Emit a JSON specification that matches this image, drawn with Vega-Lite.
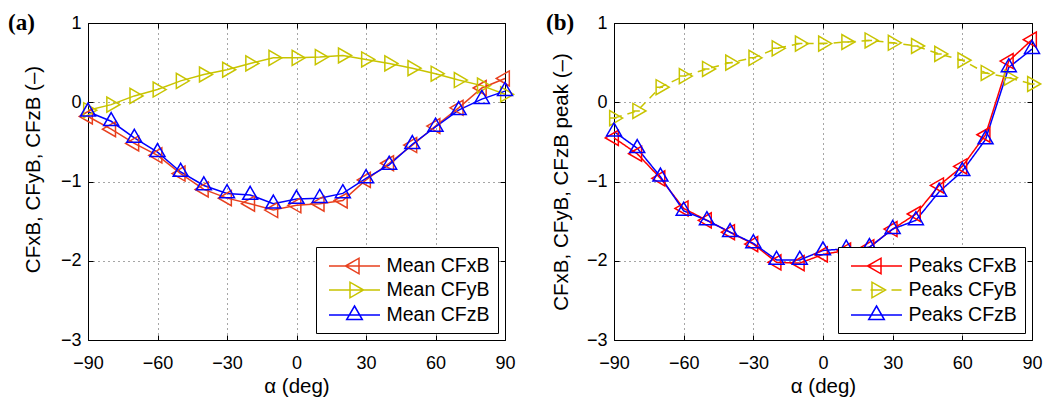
{
  "$schema": "https://vega.github.io/schema/vega-lite/v6.json",
  "padding": {"left": 7, "top": 11, "right": 2, "bottom": 0},
  "spacing": 109,
  "bounds": "flush",
  "background": "white",
  "resolve": {
    "scale": {"color": "independent", "shape": "independent", "stroke": "independent", "strokeDash": "independent", "x": "independent", "y": "independent"},
    "legend": {"color": "independent", "shape": "independent"}
  },
  "config": {
    "view": {"stroke": "black", "strokeWidth": 1},
    "axis": {
      "labelFont": "Liberation Sans", "labelFontSize": 18, "labelColor": "black",
      "titleFont": "Liberation Sans", "titleFontSize": 20.5, "titleFontWeight": "normal", "titleColor": "black",
      "tickColor": "black", "tickSize": -5, "tickWidth": 1, "domain": false,
      "gridColor": "black", "gridDash": [1, 4], "gridOpacity": 0.7, "gridWidth": 1,
      "labelFlush": false
    },
    "legend": {
      "labelFont": "Liberation Sans", "labelFontSize": 19.5, "labelColor": "black",
      "strokeColor": "black", "fillColor": "white", "padding": 8, "cornerRadius": 0,
      "symbolSize": 400, "symbolStrokeWidth": 1.5, "symbolOpacity": 1, "symbolOffset": 19.5, "labelOffset": 21, "rowPadding": 2,
      "orient": "bottom-right", "offset": 7
    },
    "title": {"font": "Liberation Serif", "fontWeight": "bold", "fontSize": 23, "color": "black", "anchor": "start", "frame": "group", "baseline": "alphabetic", "offset": -21}
  },
  "datasets": {
    "a": [
      {"alpha": -90, "value": -0.18, "series": "Mean CFxB"},
      {"alpha": -80, "value": -0.34, "series": "Mean CFxB"},
      {"alpha": -70, "value": -0.52, "series": "Mean CFxB"},
      {"alpha": -60, "value": -0.67, "series": "Mean CFxB"},
      {"alpha": -50, "value": -0.90, "series": "Mean CFxB"},
      {"alpha": -40, "value": -1.10, "series": "Mean CFxB"},
      {"alpha": -30, "value": -1.21, "series": "Mean CFxB"},
      {"alpha": -20, "value": -1.28, "series": "Mean CFxB"},
      {"alpha": -10, "value": -1.36, "series": "Mean CFxB"},
      {"alpha": 0, "value": -1.30, "series": "Mean CFxB"},
      {"alpha": 10, "value": -1.28, "series": "Mean CFxB"},
      {"alpha": 20, "value": -1.24, "series": "Mean CFxB"},
      {"alpha": 30, "value": -0.98, "series": "Mean CFxB"},
      {"alpha": 40, "value": -0.77, "series": "Mean CFxB"},
      {"alpha": 50, "value": -0.54, "series": "Mean CFxB"},
      {"alpha": 60, "value": -0.30, "series": "Mean CFxB"},
      {"alpha": 70, "value": -0.07, "series": "Mean CFxB"},
      {"alpha": 80, "value": 0.18, "series": "Mean CFxB"},
      {"alpha": 90, "value": 0.30, "series": "Mean CFxB"},
      {"alpha": -90, "value": -0.10, "series": "Mean CFyB"},
      {"alpha": -80, "value": -0.03, "series": "Mean CFyB"},
      {"alpha": -70, "value": 0.08, "series": "Mean CFyB"},
      {"alpha": -60, "value": 0.16, "series": "Mean CFyB"},
      {"alpha": -50, "value": 0.27, "series": "Mean CFyB"},
      {"alpha": -40, "value": 0.35, "series": "Mean CFyB"},
      {"alpha": -30, "value": 0.41, "series": "Mean CFyB"},
      {"alpha": -20, "value": 0.49, "series": "Mean CFyB"},
      {"alpha": -10, "value": 0.56, "series": "Mean CFyB"},
      {"alpha": 0, "value": 0.56, "series": "Mean CFyB"},
      {"alpha": 10, "value": 0.57, "series": "Mean CFyB"},
      {"alpha": 20, "value": 0.59, "series": "Mean CFyB"},
      {"alpha": 30, "value": 0.54, "series": "Mean CFyB"},
      {"alpha": 40, "value": 0.49, "series": "Mean CFyB"},
      {"alpha": 50, "value": 0.43, "series": "Mean CFyB"},
      {"alpha": 60, "value": 0.36, "series": "Mean CFyB"},
      {"alpha": 70, "value": 0.28, "series": "Mean CFyB"},
      {"alpha": 80, "value": 0.21, "series": "Mean CFyB"},
      {"alpha": 90, "value": 0.10, "series": "Mean CFyB"},
      {"alpha": -90, "value": -0.12, "series": "Mean CFzB"},
      {"alpha": -80, "value": -0.24, "series": "Mean CFzB"},
      {"alpha": -70, "value": -0.45, "series": "Mean CFzB"},
      {"alpha": -60, "value": -0.63, "series": "Mean CFzB"},
      {"alpha": -50, "value": -0.88, "series": "Mean CFzB"},
      {"alpha": -40, "value": -1.05, "series": "Mean CFzB"},
      {"alpha": -30, "value": -1.15, "series": "Mean CFzB"},
      {"alpha": -20, "value": -1.17, "series": "Mean CFzB"},
      {"alpha": -10, "value": -1.28, "series": "Mean CFzB"},
      {"alpha": 0, "value": -1.22, "series": "Mean CFzB"},
      {"alpha": 10, "value": -1.21, "series": "Mean CFzB"},
      {"alpha": 20, "value": -1.15, "series": "Mean CFzB"},
      {"alpha": 30, "value": -0.96, "series": "Mean CFzB"},
      {"alpha": 40, "value": -0.79, "series": "Mean CFzB"},
      {"alpha": 50, "value": -0.53, "series": "Mean CFzB"},
      {"alpha": 60, "value": -0.31, "series": "Mean CFzB"},
      {"alpha": 70, "value": -0.10, "series": "Mean CFzB"},
      {"alpha": 80, "value": 0.04, "series": "Mean CFzB"},
      {"alpha": 90, "value": 0.14, "series": "Mean CFzB"}
    ],
    "b": [
      {"alpha": -90, "value": -0.45, "series": "Peaks CFxB"},
      {"alpha": -80, "value": -0.65, "series": "Peaks CFxB"},
      {"alpha": -70, "value": -0.96, "series": "Peaks CFxB"},
      {"alpha": -60, "value": -1.34, "series": "Peaks CFxB"},
      {"alpha": -50, "value": -1.49, "series": "Peaks CFxB"},
      {"alpha": -40, "value": -1.64, "series": "Peaks CFxB"},
      {"alpha": -30, "value": -1.79, "series": "Peaks CFxB"},
      {"alpha": -20, "value": -2.02, "series": "Peaks CFxB"},
      {"alpha": -10, "value": -2.03, "series": "Peaks CFxB"},
      {"alpha": 0, "value": -1.92, "series": "Peaks CFxB"},
      {"alpha": 10, "value": -1.87, "series": "Peaks CFxB"},
      {"alpha": 20, "value": -1.83, "series": "Peaks CFxB"},
      {"alpha": 30, "value": -1.60, "series": "Peaks CFxB"},
      {"alpha": 40, "value": -1.41, "series": "Peaks CFxB"},
      {"alpha": 50, "value": -1.05, "series": "Peaks CFxB"},
      {"alpha": 60, "value": -0.81, "series": "Peaks CFxB"},
      {"alpha": 70, "value": -0.41, "series": "Peaks CFxB"},
      {"alpha": 80, "value": 0.52, "series": "Peaks CFxB"},
      {"alpha": 90, "value": 0.79, "series": "Peaks CFxB"},
      {"alpha": -90, "value": -0.20, "series": "Peaks CFyB"},
      {"alpha": -80, "value": -0.11, "series": "Peaks CFyB"},
      {"alpha": -70, "value": 0.19, "series": "Peaks CFyB"},
      {"alpha": -60, "value": 0.33, "series": "Peaks CFyB"},
      {"alpha": -50, "value": 0.42, "series": "Peaks CFyB"},
      {"alpha": -40, "value": 0.50, "series": "Peaks CFyB"},
      {"alpha": -30, "value": 0.56, "series": "Peaks CFyB"},
      {"alpha": -20, "value": 0.68, "series": "Peaks CFyB"},
      {"alpha": -10, "value": 0.74, "series": "Peaks CFyB"},
      {"alpha": 0, "value": 0.74, "series": "Peaks CFyB"},
      {"alpha": 10, "value": 0.76, "series": "Peaks CFyB"},
      {"alpha": 20, "value": 0.78, "series": "Peaks CFyB"},
      {"alpha": 30, "value": 0.75, "series": "Peaks CFyB"},
      {"alpha": 40, "value": 0.71, "series": "Peaks CFyB"},
      {"alpha": 50, "value": 0.61, "series": "Peaks CFyB"},
      {"alpha": 60, "value": 0.53, "series": "Peaks CFyB"},
      {"alpha": 70, "value": 0.37, "series": "Peaks CFyB"},
      {"alpha": 80, "value": 0.31, "series": "Peaks CFyB"},
      {"alpha": 90, "value": 0.23, "series": "Peaks CFyB"},
      {"alpha": -90, "value": -0.37, "series": "Peaks CFzB"},
      {"alpha": -80, "value": -0.58, "series": "Peaks CFzB"},
      {"alpha": -70, "value": -0.94, "series": "Peaks CFzB"},
      {"alpha": -60, "value": -1.37, "series": "Peaks CFzB"},
      {"alpha": -50, "value": -1.49, "series": "Peaks CFzB"},
      {"alpha": -40, "value": -1.64, "series": "Peaks CFzB"},
      {"alpha": -30, "value": -1.78, "series": "Peaks CFzB"},
      {"alpha": -20, "value": -1.99, "series": "Peaks CFzB"},
      {"alpha": -10, "value": -1.99, "series": "Peaks CFzB"},
      {"alpha": 0, "value": -1.87, "series": "Peaks CFzB"},
      {"alpha": 10, "value": -1.85, "series": "Peaks CFzB"},
      {"alpha": 20, "value": -1.83, "series": "Peaks CFzB"},
      {"alpha": 30, "value": -1.60, "series": "Peaks CFzB"},
      {"alpha": 40, "value": -1.49, "series": "Peaks CFzB"},
      {"alpha": 50, "value": -1.13, "series": "Peaks CFzB"},
      {"alpha": 60, "value": -0.87, "series": "Peaks CFzB"},
      {"alpha": 70, "value": -0.47, "series": "Peaks CFzB"},
      {"alpha": 80, "value": 0.44, "series": "Peaks CFzB"},
      {"alpha": 90, "value": 0.67, "series": "Peaks CFzB"}
    ]
  },
  "hconcat": [
    {
      "width": 417, "height": 317,
      "title": {"text": "(a)", "dx": -80},
      "data": {"name": "a"},
      "layer": [
        {
          "mark": {"type": "line", "strokeWidth": 1.5},
          "encoding": {
            "x": {"field": "alpha", "type": "quantitative", "scale": {"domain": [-90, 90], "nice": false},
                  "axis": {"values": [-90, -60, -30, 0, 30, 60, 90], "title": "α (deg)", "labelPadding": 19, "titlePadding": 4, "grid": true}},
            "y": {"field": "value", "type": "quantitative", "scale": {"domain": [-3, 1], "nice": false},
                  "axis": {"values": [-3, -2, -1, 0, 1], "title": "CFxB, CFyB, CFzB  (–)", "labelPadding": 12, "titlePadding": 17, "titleY": 146, "grid": true}},
            "stroke": {"field": "series", "type": "nominal", "scale": {"domain": ["Mean CFzB", "Mean CFyB", "Mean CFxB"], "range": ["#0000ff", "#c8c400", "#e8401e"]}, "legend": null}
          }
        },
        {
          "transform": [{"filter": "datum.series === 'Mean CFxB'"}],
          "mark": {"type": "point", "shape": "M-1,0L0.5,-0.866L0.5,0.866Z", "filled": false, "stroke": "#e8401e", "strokeWidth": 1.5, "size": 300, "opacity": 1},
          "encoding": {
            "x": {"field": "alpha", "type": "quantitative", "axis": {"orient": "top", "values": [-90, -60, -30, 0, 30, 60, 90], "labels": false, "title": null, "grid": false}},
            "y": {"field": "value", "type": "quantitative", "axis": {"orient": "right", "values": [-3, -2, -1, 0, 1], "labels": false, "title": null, "grid": false}}
          }
        },
        {
          "transform": [{"filter": "datum.series === 'Mean CFyB'"}],
          "mark": {"type": "point", "shape": "M1,0L-0.5,-0.866L-0.5,0.866Z", "filled": false, "stroke": "#c8c400", "strokeWidth": 1.5, "size": 300, "opacity": 1},
          "encoding": {
            "x": {"field": "alpha", "type": "quantitative", "axis": null},
            "y": {"field": "value", "type": "quantitative", "axis": null}
          }
        },
        {
          "transform": [{"filter": "datum.series === 'Mean CFzB'"}],
          "mark": {"type": "point", "shape": "M0,-1L0.866,0.5L-0.866,0.5Z", "filled": false, "stroke": "#0000ff", "strokeWidth": 1.5, "size": 300, "opacity": 1},
          "encoding": {
            "x": {"field": "alpha", "type": "quantitative", "axis": null},
            "y": {"field": "value", "type": "quantitative", "axis": null}
          }
        },
        {
          "transform": [{"filter": "datum.alpha > 999"}],
          "mark": {"type": "point", "filled": false, "strokeWidth": 1.5},
          "encoding": {
            "color": {"field": "series", "type": "nominal", "scale": {"domain": ["Mean CFxB", "Mean CFyB", "Mean CFzB"], "range": ["#e8401e", "#c8c400", "#0000ff"]}, "legend": {"title": null}},
            "shape": {"field": "series", "type": "nominal", "scale": {"domain": ["Mean CFxB", "Mean CFyB", "Mean CFzB"], "range": ["M-2.55,0H2.55M-0.9,0L0.45,-0.78L0.45,0.78Z", "M-2.55,0H2.55M0.9,0L-0.45,-0.78L-0.45,0.78Z", "M-2.55,0H2.55M0,-0.9L0.78,0.45L-0.78,0.45Z"]}, "legend": {"title": null}}
          }
        }
      ],
      "resolve": {"axis": {"x": "independent", "y": "independent"}}
    },
    {
      "width": 418, "height": 317,
      "title": {"text": "(b)", "dx": -68},
      "data": {"name": "b"},
      "layer": [
        {
          "mark": {"type": "line", "strokeWidth": 1.5},
          "encoding": {
            "x": {"field": "alpha", "type": "quantitative", "scale": {"domain": [-90, 90], "nice": false},
                  "axis": {"values": [-90, -60, -30, 0, 30, 60, 90], "title": "α (deg)", "labelPadding": 19, "titlePadding": 4, "grid": true}},
            "y": {"field": "value", "type": "quantitative", "scale": {"domain": [-3, 1], "nice": false},
                  "axis": {"values": [-3, -2, -1, 0, 1], "title": "CFxB, CFyB, CFzB peak (–)", "labelPadding": 12, "titlePadding": 15, "grid": true}},
            "stroke": {"field": "series", "type": "nominal", "scale": {"domain": ["Peaks CFzB", "Peaks CFyB", "Peaks CFxB"], "range": ["#0000ff", "#c8c400", "#ff0000"]}, "legend": null},
            "strokeDash": {"field": "series", "type": "nominal", "scale": {"domain": ["Peaks CFyB", "Peaks CFxB", "Peaks CFzB"], "range": [[8, 6], [1, 0], [1, 0]]}, "legend": null}
          }
        },
        {
          "transform": [{"filter": "datum.series === 'Peaks CFxB'"}],
          "mark": {"type": "point", "shape": "M-1,0L0.5,-0.866L0.5,0.866Z", "filled": false, "stroke": "#ff0000", "strokeWidth": 1.5, "size": 300, "opacity": 1},
          "encoding": {
            "x": {"field": "alpha", "type": "quantitative", "axis": {"orient": "top", "values": [-90, -60, -30, 0, 30, 60, 90], "labels": false, "title": null, "grid": false}},
            "y": {"field": "value", "type": "quantitative", "axis": {"orient": "right", "values": [-3, -2, -1, 0, 1], "labels": false, "title": null, "grid": false}}
          }
        },
        {
          "transform": [{"filter": "datum.series === 'Peaks CFyB'"}],
          "mark": {"type": "point", "shape": "M1,0L-0.5,-0.866L-0.5,0.866ZM-0.5,0H0.3", "filled": false, "stroke": "#c8c400", "strokeWidth": 1.5, "size": 300, "opacity": 1},
          "encoding": {
            "x": {"field": "alpha", "type": "quantitative", "axis": null},
            "y": {"field": "value", "type": "quantitative", "axis": null}
          }
        },
        {
          "transform": [{"filter": "datum.series === 'Peaks CFzB'"}],
          "mark": {"type": "point", "shape": "M0,-1L0.866,0.5L-0.866,0.5Z", "filled": false, "stroke": "#0000ff", "strokeWidth": 1.5, "size": 300, "opacity": 1},
          "encoding": {
            "x": {"field": "alpha", "type": "quantitative", "axis": null},
            "y": {"field": "value", "type": "quantitative", "axis": null}
          }
        },
        {
          "transform": [{"filter": "datum.alpha > 999"}],
          "mark": {"type": "point", "filled": false, "strokeWidth": 1.5},
          "encoding": {
            "color": {"field": "series", "type": "nominal", "scale": {"domain": ["Peaks CFxB", "Peaks CFyB", "Peaks CFzB"], "range": ["#ff0000", "#c8c400", "#0000ff"]}, "legend": {"title": null}},
            "shape": {"field": "series", "type": "nominal", "scale": {"domain": ["Peaks CFxB", "Peaks CFyB", "Peaks CFzB"], "range": ["M-2.55,0H2.55M-0.9,0L0.45,-0.78L0.45,0.78Z", "M-2.5,0H-1.5M-0.6,0H0.6M1.5,0H2.5M0.9,0L-0.45,-0.78L-0.45,0.78Z", "M-2.55,0H2.55M0,-0.9L0.78,0.45L-0.78,0.45Z"]}, "legend": {"title": null}}
          }
        }
      ],
      "resolve": {"axis": {"x": "independent", "y": "independent"}}
    }
  ]
}
